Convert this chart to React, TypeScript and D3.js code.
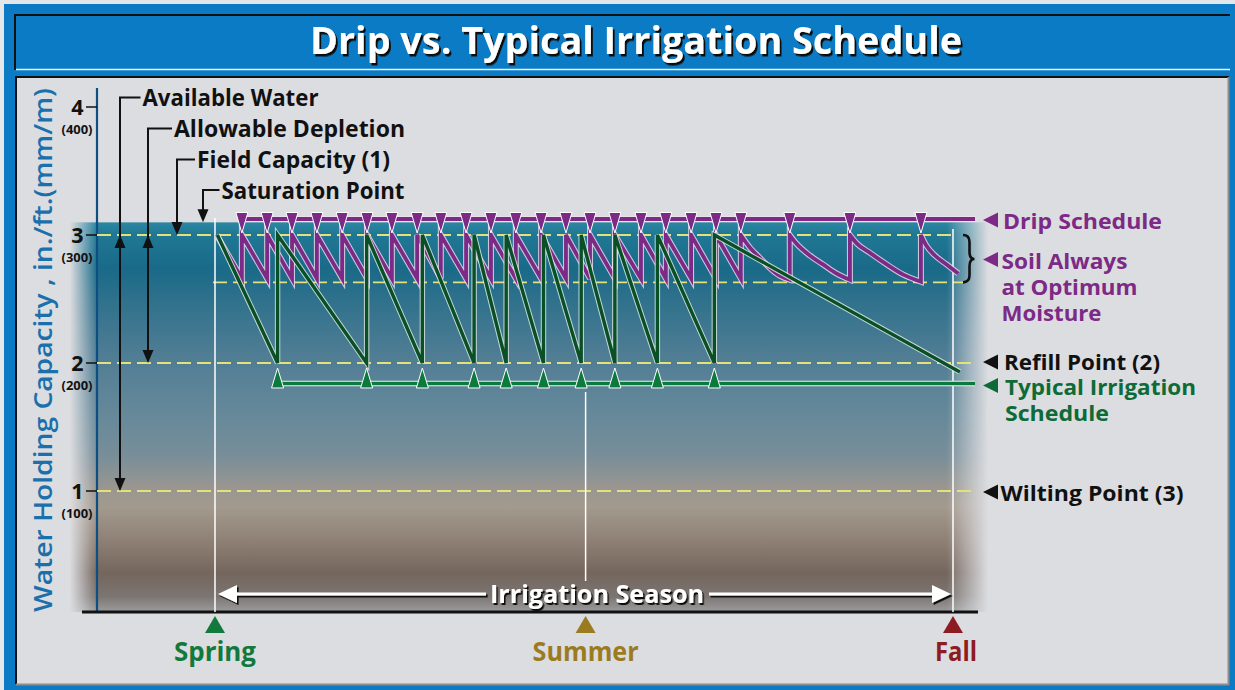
import React from 'react';
import * as d3 from 'd3';

// ---------- DATA ----------
// soil water levels, in./ft.
const yTicks = [4, 3, 2, 1];
const yTickSub = ['(400)', '(300)', '(200)', '(100)'];
const SATURATION = 3.1;
const FIELD_CAPACITY = 3.0;
const OPTIMUM_LOW = 2.63;
const REFILL = 2.0;
const WILTING = 1.0;
const DRIP_SCHEDULE_LEVEL = 3.125;
const TYPICAL_SCHEDULE_LEVEL = 1.84;

// season timeline, days after spring
const seasons = ['Spring', 'Summer', 'Fall'];
const seasonDays = [0, 92.4, 184];
const seasonColors = ['#12793d', '#9a7b1f', '#8c1c22'];

// drip irrigation events (days)
const dripEvents = [6.7, 13.0, 19.2, 25.4, 31.7, 37.9, 44.1, 50.4, 56.3, 62.6, 68.8, 75.0,
  81.3, 87.5, 93.5, 99.7, 106.2, 112.4, 118.7, 124.9, 131.1, 143.3, 158.3, 176.0];

// soil moisture under drip, segments between events [day, in./ft.]
const dripSoil: [number, number][][] = [
  [[0.4, 3.0], [6.7, 2.66]],
  [[6.7, 3.0], [13.0, 2.66]],
  [[13.0, 3.0], [19.2, 2.66]],
  [[19.2, 3.0], [25.4, 2.66]],
  [[25.4, 3.0], [31.7, 2.66]],
  [[31.7, 3.0], [37.9, 2.66]],
  [[37.9, 3.0], [44.1, 2.66]],
  [[44.1, 3.0], [50.4, 2.66]],
  [[50.4, 3.0], [56.3, 2.66]],
  [[56.3, 3.0], [62.6, 2.66]],
  [[62.6, 3.0], [68.8, 2.66]],
  [[68.8, 3.0], [75.0, 2.66]],
  [[75.0, 3.0], [81.3, 2.66]],
  [[81.3, 3.0], [87.5, 2.66]],
  [[87.5, 3.0], [93.5, 2.66]],
  [[93.5, 3.0], [99.7, 2.66]],
  [[99.7, 3.0], [106.2, 2.66]],
  [[106.2, 3.0], [112.4, 2.66]],
  [[112.4, 3.0], [118.7, 2.66]],
  [[118.7, 3.0], [124.9, 2.66]],
  [[124.9, 3.0], [131.1, 2.66]],
  [[131.1, 3.0], [133.4, 2.9], [135.9, 2.82], [138.4, 2.74], [140.9, 2.68], [143.3, 2.65]],
  [[143.3, 3.0], [144.9, 2.935], [148.3, 2.84], [151.6, 2.77], [154.9, 2.7], [158.3, 2.65]],
  [[158.3, 3.0], [160.0, 2.935], [163.3, 2.86], [167.5, 2.77], [171.6, 2.69], [176.0, 2.635]],
  [[176.0, 3.0], [177.3, 2.92], [179.5, 2.84], [182.4, 2.77], [185.3, 2.7]],
];

// typical irrigation events (days)
const typicalEvents = [15.6, 37.8, 51.7, 64.6, 72.6, 81.9, 91.3, 99.7, 110.3, 124.5];

// soil moisture under typical schedule [day, in./ft.]
const typicalSoil: [number, number][] = [
  [0.6, 3.0], [15.6, 2.0], [15.6, 3.0], [37.8, 2.0], [37.8, 3.0], [51.7, 2.0],
  [51.7, 3.0], [64.6, 2.0], [64.6, 3.0], [72.6, 2.0], [72.6, 3.0], [81.9, 2.0],
  [81.9, 3.0], [91.3, 2.0], [91.3, 3.0], [99.7, 2.0], [99.7, 3.0], [110.3, 2.0],
  [110.3, 3.0], [124.5, 2.0], [124.5, 3.0], [185.7, 1.93],
];

// ---------- STYLE ----------
const FONT = "'Open Sans', 'DejaVu Sans', sans-serif";
const PURPLE = '#7c2a85';
const GREEN_DARK = '#0a5026';
const GREEN = '#0c7a3d';
const GREEN_TEXT = '#0e6a37';
const YELLOW = '#e4e07a';

export default function App() {
  const x = d3.scaleLinear().domain([0, 184]).range([215, 953]);
  const y = d3.scaleLinear().domain([0, 4]).range([619, 107]);

  const lin = d3.line<[number, number]>().x(d => x(d[0])).y(d => y(d[1]));
  const mono = d3.line<[number, number]>().x(d => x(d[0])).y(d => y(d[1])).curve(d3.curveMonotoneX);

  const dripPath = dripSoil
    .map((seg, i) => {
      const p = mono(seg) || '';
      return i === 0 ? p : p.replace(/^M/, 'L');
    })
    .join('');
  const typicalPath = lin(typicalSoil) || '';

  const rightEnd = 975;
  const boldText = { fontFamily: FONT, fontWeight: 700 } as const;

  const downTri = (cx: number, top: number, tip: number, hw: number) =>
    `M${cx - hw},${top}L${cx + hw},${top}L${cx},${tip}Z`;
  const upTri = (cx: number, tip: number, base: number, hw: number) =>
    `M${cx - hw},${base}L${cx + hw},${base}L${cx},${tip}Z`;
  const leftTri = (tipX: number, cy: number) =>
    `M${tipX},${cy}L${tipX + 15},${cy - 7.5}L${tipX + 15},${cy + 7.5}Z`;

  // left annotation labels
  const annots = [
    { text: 'Available Water', bx: 120, ly: 97.5, tx: 142.5, base: 106, w: 176, top: FIELD_CAPACITY, bottom: WILTING },
    { text: 'Allowable Depletion', bx: 148, ly: 128.5, tx: 174, base: 137, w: 231, top: FIELD_CAPACITY, bottom: REFILL },
    { text: 'Field Capacity (1)', bx: 177, ly: 159.5, tx: 197, base: 167.5, w: 193, top: null, bottom: FIELD_CAPACITY },
    { text: 'Saturation Point', bx: 203, ly: 190, tx: 221.5, base: 198.5, w: 183, top: null, bottom: SATURATION },
  ];

  const rightLabels = [
    { lines: ['Drip Schedule'], widths: [159], color: PURPLE, cy: 220, base: 228.5, x: 1003 },
    { lines: ['Soil Always', 'at Optimum', 'Moisture'], widths: [126, 136, 100], color: PURPLE, cy: 259.5, base: 268.5, x: 1001.5 },
    { lines: ['Refill Point (2)'], widths: [156], color: '#111', cy: 362, base: 370, x: 1004 },
    { lines: ['Typical Irrigation', 'Schedule'], widths: [191, 104], color: GREEN_TEXT, cy: 385.5, base: 394.5, x: 1005 },
    { lines: ['Wilting Point (3)'], widths: [183], color: '#111', cy: 492, base: 500.5, x: 1000.5 },
  ];

  const dashed = [
    { v: FIELD_CAPACITY, x0: 97, x1: 956 },
    { v: OPTIMUM_LOW, x0: 213, x1: 963 },
    { v: REFILL, x0: 97, x1: rightEnd },
    { v: WILTING, x0: 97, x1: rightEnd },
  ];

  const seasonTop = y(SATURATION);

  return (
    <div style={{ position: 'absolute', left: 0, top: 0 }}>
      <svg width={1235} height={690} viewBox="0 0 1235 690" style={{ display: 'block' }}>
        <defs>
          <linearGradient id="soil" x1="0" y1="0" x2="0" y2="1">
            <stop offset="0" stopColor="#2c87a2" />
            <stop offset="0.03" stopColor="#207895" />
            <stop offset="0.12" stopColor="#196a88" />
            <stop offset="0.2" stopColor="#2f718c" />
            <stop offset="0.34" stopColor="#4f7d94" />
            <stop offset="0.5" stopColor="#67899a" />
            <stop offset="0.6" stopColor="#788e99" />
            <stop offset="0.68" stopColor="#999690" />
            <stop offset="0.73" stopColor="#a39a8e" />
            <stop offset="0.82" stopColor="#8e7f74" />
            <stop offset="0.9" stopColor="#74665d" />
            <stop offset="0.96" stopColor="#7b7571" />
            <stop offset="1" stopColor="#9c9c9e" />
          </linearGradient>
          <linearGradient id="fadeX" gradientUnits="userSpaceOnUse" x1="70" y1="0" x2="988" y2="0">
            <stop offset="0" stopColor="#000" />
            <stop offset="0.03" stopColor="#fff" />
            <stop offset="0.955" stopColor="#fff" />
            <stop offset="1" stopColor="#000" />
          </linearGradient>
          <mask id="soilMask" maskUnits="userSpaceOnUse" x="0" y="0" width="1235" height="690">
            <rect x={70} y={seasonTop} width={918} height={612 - seasonTop} fill="url(#fadeX)" />
          </mask>
          <filter id="shadowBig" x="-5%" y="-20%" width="110%" height="150%">
            <feDropShadow dx="2" dy="2.5" stdDeviation="0.3" floodColor="#111" floodOpacity="1" />
          </filter>
          <filter id="shadowSmall" x="-5%" y="-40%" width="110%" height="180%">
            <feDropShadow dx="1.6" dy="2" stdDeviation="0.3" floodColor="#111" floodOpacity="1" />
          </filter>
        </defs>

        {/* frame */}
        <rect x={0} y={0} width={1235} height={690} fill="#e3e7ea" />
        <rect x={4} y={4} width={1231} height={686} fill="#0a7bc4" />

        {/* title bar */}
        <line x1={14} y1={15} x2={1230} y2={15} stroke="#111" strokeWidth={2} />
        <line x1={15} y1={14} x2={15} y2={70} stroke="#111" strokeWidth={2} />
        <line x1={16} y1={69.5} x2={1230} y2={69.5} stroke="#f4f8fb" strokeWidth={1.6} />
        <text x={636} y={54} textAnchor="middle" fontSize={38} {...boldText} fill="#fff" filter="url(#shadowBig)"
          textLength={652} lengthAdjust="spacingAndGlyphs">Drip vs. Typical Irrigation Schedule</text>

        {/* panel */}
        <rect x={15} y={76} width={1213} height={608} fill="#dcdde0" />
        <line x1={15} y1={77} x2={1229} y2={77} stroke="#111" strokeWidth={2} />
        <line x1={16} y1={76} x2={16} y2={684} stroke="#111" strokeWidth={2} />
        <line x1={1228.5} y1={77} x2={1228.5} y2={685} stroke="#8e8e8e" strokeWidth={2} />
        <line x1={16} y1={684.5} x2={1229} y2={684.5} stroke="#8e8e8e" strokeWidth={2} />

        {/* soil background */}
        <rect x={70} y={seasonTop} width={918} height={612 - seasonTop} fill="url(#soil)" mask="url(#soilMask)" />

        {/* y axis */}
        <line x1={97} y1={88} x2={97} y2={612} stroke="#0d4f82" strokeWidth={2.2} />
        {yTicks.map((t, i) => (
          <g key={t}>
            <line x1={86} y1={y(t)} x2={97} y2={y(t)} stroke="#111" strokeWidth={1.5} />
            <text x={83.5} y={y(t) + 7.5} textAnchor="end" fontSize={21.5} {...boldText} fill="#111">{t}</text>
            <text x={77} y={y(t) + 27} textAnchor="middle" fontSize={11.5} {...boldText} fill="#111"
              textLength={31} lengthAdjust="spacingAndGlyphs">{yTickSub[i]}</text>
          </g>
        ))}
        <text transform="translate(52,350) rotate(-90)" textAnchor="middle" fontSize={25}
          fontFamily={FONT} fontWeight={600} fill="#1b70ab" textLength={524} lengthAdjust="spacingAndGlyphs">
          Water Holding Capacity , in./ft.(mm/m)
        </text>

        {/* x axis */}
        <line x1={82} y1={612} x2={978} y2={612} stroke="#111" strokeWidth={3} />

        {/* dashed level lines */}
        {dashed.map((d, i) => (
          <line key={i} x1={d.x0} x2={d.x1} y1={y(d.v)} y2={y(d.v)} stroke={YELLOW} strokeWidth={1.8} strokeDasharray="14 6" />
        ))}

        {/* season verticals */}
        <line x1={x(seasonDays[0])} x2={x(seasonDays[0])} y1={218} y2={612} stroke="#fff" strokeWidth={1.5} />
        <line x1={x(seasonDays[2])} x2={x(seasonDays[2])} y1={229} y2={612} stroke="#fff" strokeWidth={1.5} />
        <line x1={x(seasonDays[1])} x2={x(seasonDays[1])} y1={392} y2={581} stroke="#fff" strokeWidth={1.5} />

        {/* drip soil moisture */}
        <path d={dripPath} fill="none" stroke="#e9d6ea" strokeWidth={6} strokeOpacity={0.85} strokeLinejoin="miter" />
        <path d={dripPath} fill="none" stroke={PURPLE} strokeWidth={3.8} strokeLinejoin="miter" />

        {/* typical soil moisture */}
        <path d={typicalPath} fill="none" stroke="#e8f0ea" strokeWidth={5.4} strokeOpacity={0.8} />
        <path d={typicalPath} fill="none" stroke={GREEN_DARK} strokeWidth={3.4} />

        {/* drip schedule line & markers */}
        <line x1={x(dripEvents[0])} x2={rightEnd} y1={y(DRIP_SCHEDULE_LEVEL)} y2={y(DRIP_SCHEDULE_LEVEL)} stroke="#f0e4f0" strokeWidth={5.5} />
        <line x1={x(dripEvents[0])} x2={rightEnd} y1={y(DRIP_SCHEDULE_LEVEL)} y2={y(DRIP_SCHEDULE_LEVEL)} stroke={PURPLE} strokeWidth={3.8} />
        {dripEvents.map((d, i) => (
          <path key={i} d={downTri(x(d), y(DRIP_SCHEDULE_LEVEL) - 6.5, y(FIELD_CAPACITY) - 2, 6)} fill={PURPLE} stroke="#fff" strokeWidth={1} />
        ))}

        {/* typical schedule line & markers */}
        <line x1={x(typicalEvents[0])} x2={rightEnd} y1={y(TYPICAL_SCHEDULE_LEVEL)} y2={y(TYPICAL_SCHEDULE_LEVEL)} stroke="#eef5f0" strokeWidth={5.5} />
        <line x1={x(typicalEvents[0])} x2={rightEnd} y1={y(TYPICAL_SCHEDULE_LEVEL)} y2={y(TYPICAL_SCHEDULE_LEVEL)} stroke={GREEN} strokeWidth={3.6} />
        {typicalEvents.map((d, i) => (
          <path key={i} d={upTri(x(d), y(REFILL) + 5, y(TYPICAL_SCHEDULE_LEVEL) + 4.5, 6)} fill={GREEN} stroke="#fff" strokeWidth={1} />
        ))}

        {/* left annotations */}
        {annots.map((a, i) => {
          const bottomY = y(a.bottom);
          return (
            <g key={i}>
              <path d={`M${a.tx - 2},${a.ly}L${a.bx},${a.ly}L${a.bx},${bottomY - 8}`} fill="none" stroke="#111" strokeWidth={2} />
              <path d={`M${a.bx - 5.5},${bottomY - 13}L${a.bx + 5.5},${bottomY - 13}L${a.bx},${bottomY}Z`} fill="#111" />
              {a.top !== null && (
                <path d={`M${a.bx - 5.5},${y(a.top) + 13}L${a.bx + 5.5},${y(a.top) + 13}L${a.bx},${y(a.top)}Z`} fill="#111" />
              )}
              <text x={a.tx} y={a.base} fontSize={23} {...boldText} fill="#111" textLength={a.w} lengthAdjust="spacingAndGlyphs">{a.text}</text>
            </g>
          );
        })}

        {/* brace for optimum moisture */}
        <path d={`M963,${y(FIELD_CAPACITY)}Q969.5,${y(FIELD_CAPACITY)} 969.5,${y(FIELD_CAPACITY) + 7}L969.5,252Q969.5,259 974.5,259Q969.5,259 969.5,266L969.5,${y(OPTIMUM_LOW) - 7}Q969.5,${y(OPTIMUM_LOW)} 963,${y(OPTIMUM_LOW)}`}
          fill="none" stroke="#111" strokeWidth={2.6} />

        {/* right labels */}
        {rightLabels.map((r, i) => (
          <g key={i}>
            <path d={leftTri(983, r.cy)} fill={r.color} />
            {r.lines.map((l, j) => (
              <text key={j} x={r.x} y={r.base + j * 26.2} fontSize={22} {...boldText} fill={r.color}
                textLength={r.widths[j]} lengthAdjust="spacingAndGlyphs">{l}</text>
            ))}
          </g>
        ))}

        {/* irrigation season arrow */}
        <g fill="#fff" stroke="#fff" filter="url(#shadowSmall)">
          <line x1={234} x2={486} y1={594} y2={594} strokeWidth={3} />
          <line x1={709} x2={934} y1={594} y2={594} strokeWidth={3} />
          <path d="M218,594L237,585L237,603Z" stroke="none" />
          <path d="M951,594L932,585L932,603Z" stroke="none" />
          <text x={597} y={603} textAnchor="middle" fontSize={25} {...boldText} stroke="none" textLength={214} lengthAdjust="spacingAndGlyphs">Irrigation Season</text>
        </g>

        {/* season markers */}
        {seasons.map((s, i) => {
          const cx = x(seasonDays[i]);
          const widths = [82, 106, 42];
          return (
            <g key={s}>
              <path d={`M${cx - 10},633L${cx + 10},633L${cx},616Z`} fill={seasonColors[i]} />
              <text x={i === 2 ? cx + 3 : cx} y={661} textAnchor="middle" fontSize={26} {...boldText} fill={seasonColors[i]}
                textLength={widths[i]} lengthAdjust="spacingAndGlyphs">{s}</text>
            </g>
          );
        })}
      </svg>
    </div>
  );
}
